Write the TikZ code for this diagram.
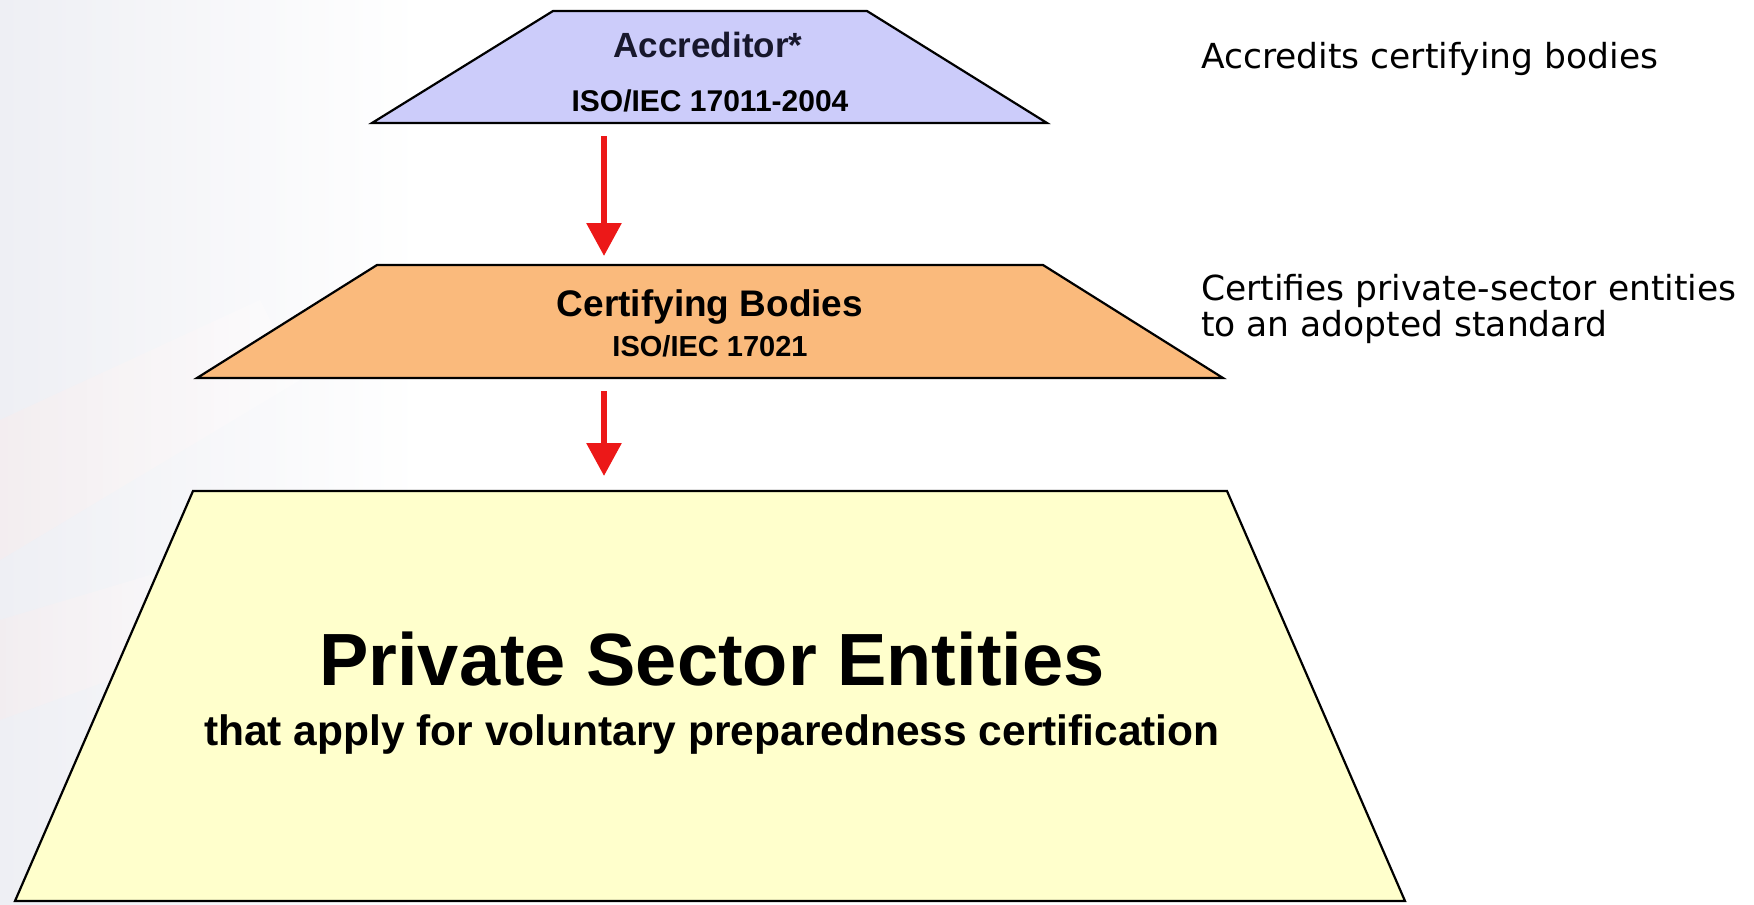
\documentclass[tikz,border=0pt]{standalone}
\usepackage{fontspec}
\setmainfont{Liberation Sans}
\newfontfamily\notefont{DejaVu Sans}
\usetikzlibrary{arrows.meta}
\definecolor{accfill}{RGB}{204,204,250}
\definecolor{certfill}{RGB}{250,186,124}
\definecolor{privfill}{RGB}{255,255,204}
\definecolor{arrowred}{RGB}{236,24,24}
\definecolor{bgtint}{RGB}{238,239,244}
\definecolor{bgpink}{RGB}{250,236,236}
\definecolor{navyink}{RGB}{24,24,44}
\begin{document}
\begin{tikzpicture}[x=1pt,y=-1pt,
  tier/.style={draw=black, line width=2.2pt, line join=miter},
  flow/.style={draw=arrowred, line width=6pt, -{Triangle[width=34pt,length=33pt]}},
  tiertext/.style={inner sep=0pt, anchor=base, font=\fontsize{#1}{#1}\selectfont\bfseries},
  note/.style={inner sep=0pt, anchor=base west, font=\notefont\fontsize{34.5}{38}\selectfont}]
\useasboundingbox (0,0) rectangle (1754,905);
% faint background on the left
\shade[left color=bgtint, right color=white] (0,0) rectangle (420,905);
\shade[left color=bgpink, right color=white, opacity=0.45] (0,420) -- (260,300) -- (300,380) -- (0,560) -- cycle;
\shade[left color=bgpink, right color=white, opacity=0.4] (0,620) -- (200,560) -- (220,640) -- (0,720) -- cycle;
% tiers
\draw[tier, fill=accfill] (553,11) -- (867,11) -- (1047,123) -- (372,123) -- cycle;
\draw[tier, fill=certfill] (377,265) -- (1043,265) -- (1223,378) -- (197,378) -- cycle;
\draw[tier, fill=privfill] (193,491) -- (1227,491) -- (1405,901) -- (15,901) -- cycle;
% tier texts
\node[tiertext=35, text=navyink] (acc) at (708,57) {Accreditor*};
\node[tiertext=30] (accstd) at (710,111) {ISO/IEC 17011-2004};
\node[tiertext=37] (cert) at (710,316) {Certifying Bodies};
\node[tiertext=29] (certstd) at (710,356) {ISO/IEC 17021};
\node[tiertext=74] (priv) at (712,685) {Private Sector Entities};
\node[tiertext=42.5] (privsub) at (712,745) {that apply for voluntary preparedness certification};
% notes
\node[note] (noteacc) at (1201,68) {Accredits certifying bodies};
\node[note] (notecerta) at (1201,300) {Certifies private-sector entities};
\node[note] (notecertb) at (1201,336) {to an adopted standard};
% arrows
\coordinate (a1s) at (604,136);
\coordinate (a1e) at (604,256);
\coordinate (a2s) at (604,391);
\coordinate (a2e) at (604,476);
\draw[flow] (a1s) -- (a1e);
\draw[flow] (a2s) -- (a2e);
\end{tikzpicture}
\end{document}
